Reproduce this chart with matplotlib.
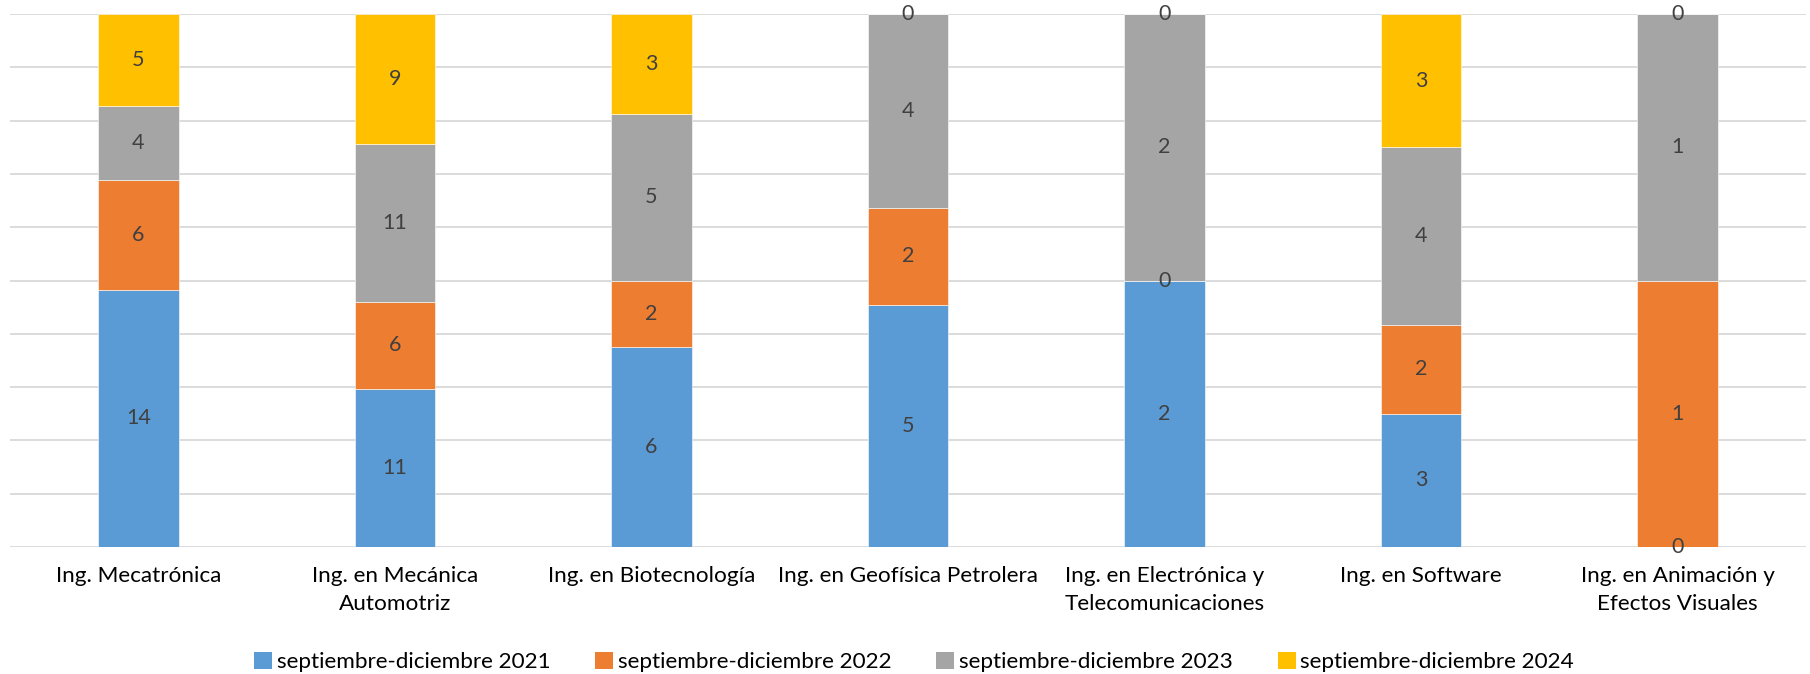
import numpy as np
import matplotlib.pyplot as plt
from matplotlib.patches import Patch

# Data
careers = ['Ing. Mecatrónica', 'Ing. en Mecánica\nAutomotriz', 'Ing. en Biotecnología',
           'Ing. en Geofísica Petrolera', 'Ing. en Electrónica y\nTelecomunicaciones',
           'Ing. en Software', 'Ing. en Animación y\nEfectos Visuales']
periods = ['septiembre-diciembre 2021', 'septiembre-diciembre 2022',
           'septiembre-diciembre 2023', 'septiembre-diciembre 2024']
s2021 = [14, 11, 6, 5, 2, 3, 0]
s2022 = [6, 6, 2, 2, 0, 2, 1]
s2023 = [4, 11, 5, 4, 2, 4, 1]
s2024 = [5, 9, 3, 0, 0, 3, 0]
colors = ['#5B9BD5', '#ED7D31', '#A5A5A5', '#FFC000']

plt.rcParams['font.family'] = ['Lato', 'DejaVu Sans']

series = np.array([s2021, s2022, s2023, s2024], dtype=float)
shares = series / series.sum(axis=0)   # 100% stacked

fig = plt.figure(figsize=(18.1, 6.74), dpi=100)
ax = fig.add_axes([0.0055, 0.1884, 0.9923, 0.7906])

x = np.arange(len(careers))
bottom = np.zeros(len(careers))
for i in range(len(periods)):
    ax.bar(x, shares[i], 0.314, bottom=bottom, color=colors[i],
           edgecolor='white', linewidth=0.4, zorder=3)
    # labels at segment centre (zero values land on the boundary, like Excel)
    for j in range(len(careers)):
        ax.text(x[j], bottom[j] + shares[i, j] / 2, f'{int(series[i, j])}',
                ha='center', va='center', fontsize=15.5, color='#404040', zorder=4)
    bottom += shares[i]

ax.set_xlim(-0.5, len(careers) - 0.5)
ax.set_ylim(0, 1)
ax.set_yticks(np.arange(0, 1.01, 0.1))
ax.yaxis.grid(True, color='#D9D9D9', linewidth=1.3, zorder=0)
ax.set_yticklabels([])
ax.tick_params(axis='y', length=0)
ax.tick_params(axis='x', length=0, pad=14)
ax.set_xticks(x)
ax.set_xticklabels(careers, fontsize=16.2, color='#000000', linespacing=1.5)
for s in ax.spines.values():
    s.set_visible(False)

handles = [Patch(facecolor=c) for c in colors]
fig.legend(handles, periods, loc='center', bbox_to_anchor=(0.505, 0.018), ncol=4,
           frameon=False, fontsize=16.2, handlelength=0.8, handleheight=0.8,
           handletextpad=0.2, columnspacing=2.0)

fig.savefig('out.png', dpi=100)
